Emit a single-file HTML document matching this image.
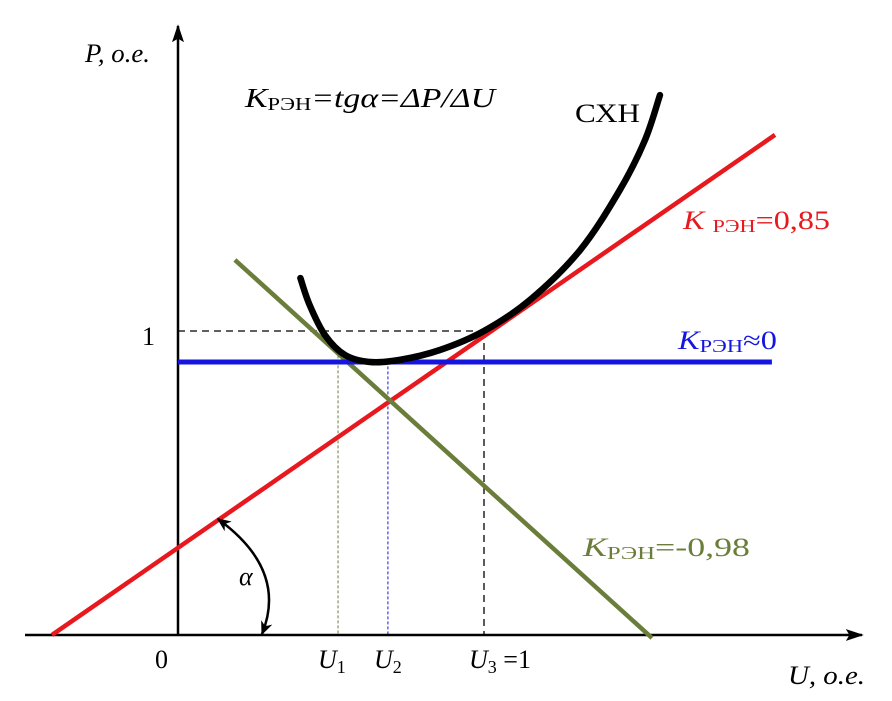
<!DOCTYPE html>
<html><head><meta charset="utf-8"><style>
html,body{margin:0;padding:0;background:#fff;}
svg{display:block;font-family:"Liberation Serif","Noto Serif CJK SC",serif;}
</style></head><body>
<svg id="chart" width="892" height="701" viewBox="0 0 892 701" xmlns="http://www.w3.org/2000/svg">
<defs>
<marker id="arr" viewBox="0 0 10 10" refX="9" refY="5" markerWidth="18" markerHeight="12" orient="auto-start-reverse" markerUnits="userSpaceOnUse" preserveAspectRatio="none"><path d="M0,0 L10,5 L0,10 L2,5 Z" fill="#000"/></marker>
<marker id="arr2" viewBox="0 0 10 10" refX="9" refY="5" markerWidth="14" markerHeight="12" orient="auto-start-reverse" markerUnits="userSpaceOnUse" preserveAspectRatio="none"><path d="M0,0 L10,5 L0,10 L3,5 Z" fill="#000"/></marker>
</defs>
<g id="marks"></g>
<g id="labels" font-size="26">
<text x="85" y="62" font-style="italic" textLength="65" lengthAdjust="spacingAndGlyphs">P, o.e.</text>
<text x="788" y="684" font-style="italic" textLength="77" lengthAdjust="spacingAndGlyphs">U, o.e.</text>
<text x="245" y="107" font-style="italic" font-size="27" textLength="250" lengthAdjust="spacingAndGlyphs">K<tspan font-style="normal" font-size="18" dy="3">РЭН</tspan><tspan dy="-3">=tgα=ΔP/ΔU</tspan></text>
<text x="575" y="122" textLength="65" lengthAdjust="spacingAndGlyphs">СХН</text>
<text x="683" y="229" fill="#e8191e" textLength="147" lengthAdjust="spacingAndGlyphs"><tspan font-style="italic">K</tspan> <tspan font-size="18" dy="3">РЭН</tspan><tspan dy="-3">=0,85</tspan></text>
<text x="678" y="349" fill="#1515e0" textLength="99" lengthAdjust="spacingAndGlyphs"><tspan font-style="italic">K</tspan><tspan font-size="18" dy="3">РЭН</tspan><tspan dy="-3">≈0</tspan></text>
<text x="583" y="556" fill="#6b7d3a" textLength="167" lengthAdjust="spacingAndGlyphs"><tspan font-style="italic">K</tspan><tspan font-size="18" dy="3">РЭН</tspan><tspan dy="-3">=-0,98</tspan></text>
<text x="142" y="345">1</text>
<text x="155" y="668">0</text>
<text x="318" y="668" font-style="italic">U<tspan font-style="normal" font-size="18" dy="5">1</tspan></text>
<text x="374" y="668" font-style="italic">U<tspan font-style="normal" font-size="18" dy="5">2</tspan></text>
<text x="469" y="668" font-style="italic">U<tspan font-style="normal" font-size="18" dy="5">3</tspan><tspan font-style="normal" dy="-5"> =1</tspan></text>
<text x="239" y="585" font-style="italic">α</text>
</g>
</svg>
<script>
const curveU=[0.40,0.43,0.48,0.546,0.627,0.725,0.856,1.0,1.15,1.314,1.444,1.526,1.575];
const curveP=[1.174,1.086,0.987,0.921,0.898,0.905,0.9375,1.0,1.102,1.266,1.464,1.628,1.776];
const redU=[-0.412,1.951];
const redP=[0,1.645];
const greenU=[0.186,1.549];
const greenP=[1.234,-0.01];
const blueU=[0,1.941];
const blueP=[0.898,0.898];
const markU=[0.523,0.686,1.0];
const refP=[1.0];

const X=u=>178+u*306, Y=p=>635-p*304;
const NS="http://www.w3.org/2000/svg";
const g=document.getElementById('marks');
function mk(tag,attrs){const e=document.createElementNS(NS,tag);for(const k in attrs)e.setAttribute(k,attrs[k]);g.appendChild(e);return e;}
function pts(U,P){return U.map((u,i)=>X(u).toFixed(1)+','+Y(P[i]).toFixed(1)).join(' ');}

let e;
e=mk('line',{x1:X(0),y1:Y(refP[0]),x2:X(markU[2]),y2:Y(refP[0]),stroke:'#000','stroke-width':1.3,'stroke-dasharray':'7,5'});


e=mk('line',{x1:X(markU[2]),y1:Y(refP[0]),x2:X(markU[2]),y2:Y(0),stroke:'#000','stroke-width':1.3,'stroke-dasharray':'7,5'});


e=mk('line',{x1:X(markU[0]),y1:Y(0.92),x2:X(markU[0]),y2:Y(0),stroke:'#6b7d3a','stroke-width':1,'stroke-dasharray':'3,2'});


e=mk('line',{x1:X(markU[1]),y1:Y(0.9),x2:X(markU[1]),y2:Y(0),stroke:'#1515e0','stroke-width':1,'stroke-dasharray':'3,2'});



e=mk('line',{x1:25,y1:635,x2:862,y2:635,stroke:'#000','stroke-width':2.5,'marker-end':'url(#arr)'});


e=mk('line',{x1:178,y1:636,x2:178,y2:26,stroke:'#000','stroke-width':2.5,'marker-end':'url(#arr)'});



e=mk('polyline',{points:pts(redU,redP),fill:'none',stroke:'#e8191e','stroke-width':4.5});


e=mk('polyline',{points:pts(greenU,greenP),fill:'none',stroke:'#6b7d3a','stroke-width':4.5});


e=mk('polyline',{points:pts(blueU,blueP),fill:'none',stroke:'#1515e0','stroke-width':5});



const cp=curveU.map((u,i)=>[X(u),Y(curveP[i])]);
let d='M'+cp[0][0]+','+cp[0][1];
for(let i=0;i<cp.length-1;i++){const p0=cp[Math.max(0,i-1)],p1=cp[i],p2=cp[i+1],p3=cp[Math.min(cp.length-1,i+2)];
d+=' C'+(p1[0]+(p2[0]-p0[0])/6)+','+(p1[1]+(p2[1]-p0[1])/6)+' '+(p2[0]-(p3[0]-p1[0])/6)+','+(p2[1]-(p3[1]-p1[1])/6)+' '+p2[0]+','+p2[1];}
e=mk('path',{d:d,fill:'none',stroke:'#000','stroke-width':6.5,'stroke-linecap':'round'});



e=mk('path',{d:'M218,519 Q288,570 262,634',fill:'none',stroke:'#000','stroke-width':2.5,'marker-start':'url(#arr2)','marker-end':'url(#arr2)'});


</script>
</body></html>
